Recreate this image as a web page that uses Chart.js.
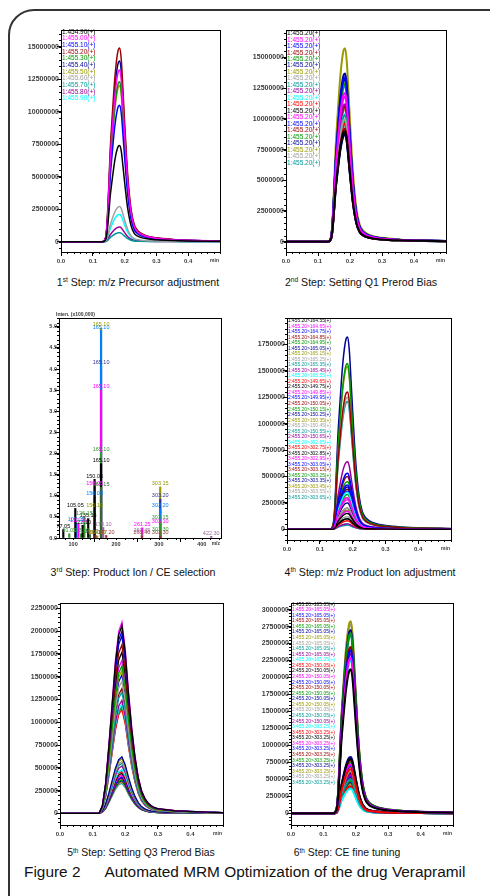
<!doctype html>
<html lang="en">
<head>
<meta charset="utf-8">
<title>Automated MRM Optimization of the drug Verapramil</title>
<style>
  * { margin: 0; padding: 0; }
  body {
    width: 490px; height: 896px; position: relative; overflow: hidden;
    background: #fff; font-family: "Liberation Sans", Arial, sans-serif; color: #111;
  }
  .frame {
    position: absolute; left: 8px; top: 9px; width: 520px; height: 930px;
    border: 2px solid #333; border-radius: 26px;
  }
  .box { position: absolute; }
  .cap {
    position: absolute; white-space: nowrap; line-height: 1;
    transform: translate(-50%, -50%); font-size: 10.6px;
  }
  .cap.small { font-size: 10.4px; }
  .cap sup { font-size: 0.62em; vertical-align: 0.5em; line-height: 0; }
  .fig { position: absolute; left: 24px; top: 864px; font-size: 15.4px; white-space: nowrap; line-height: 1; }
  .fig span { margin-left: 24px; }
</style>
</head>
<body>
<div class="frame"></div>

<div class="cap" style="left:138px; top:282px">1<sup>st</sup> Step: m/z Precursor adjustment</div>
<div class="cap" style="left:361px; top:282px">2<sup>nd</sup> Step: Setting Q1 Prerod Bias</div>
<div class="cap" style="left:133px; top:572px">3<sup>rd</sup> Step: Product Ion / CE selection</div>
<div class="cap" style="left:370px; top:572px">4<sup>th</sup> Step: m/z Product Ion adjustment</div>
<div class="cap small" style="left:141px; top:853px">5<sup>th</sup> Step: Setting Q3 Prerod Bias</div>
<div class="cap small" style="left:347px; top:853px">6<sup>th</sup> Step: CE fine tuning</div>
<div class="fig">Figure 2<span>Automated MRM Optimization of the drug Verapramil</span></div>

<script src="https://cdn.jsdelivr.net/npm/chart.js/dist/chart.umd.min.js"></script>
<script>
// ---- data ----
// retention time axis (min) and the peak profile (height = 1)
const times = [0, 0.13, 0.14, 0.145, 0.15, 0.155, 0.16, 0.17, 0.18, 0.185, 0.19, 0.195, 0.20, 0.205, 0.21, 0.22, 0.23, 0.24, 0.25, 0.27, 0.30, 0.35, 0.40, 0.50];
const profile = [0, 0, 0.02, 0.10, 0.28, 0.48, 0.62, 0.86, 0.99, 1.0, 0.93, 0.78, 0.62, 0.47, 0.34, 0.17, 0.09, 0.06, 0.045, 0.03, 0.02, 0.012, 0.008, 0.004];
// step 5 peaks are broader and drawn with straight segments
const times5 = [0, 0.12, 0.13, 0.14, 0.15, 0.16, 0.17, 0.18, 0.19, 0.20, 0.21, 0.22, 0.23, 0.24, 0.25, 0.26, 0.27, 0.28, 0.29, 0.30, 0.35, 0.40, 0.45, 0.50];
const profile5 = [0, 0, 0.04, 0.16, 0.36, 0.58, 0.80, 0.95, 1.0, 0.86, 0.64, 0.45, 0.30, 0.19, 0.12, 0.08, 0.055, 0.04, 0.03, 0.025, 0.015, 0.01, 0.006, 0.004];

const palette = ['#000000', '#ff00ff', '#0000ff', '#990000', '#009900', '#000099', '#999900', '#a0a0a0', '#009999', '#990099', '#00ffff', '#ff0000'];

// 1st step
const p1Labels = ['1:454.90(+)', '1:455.00(+)', '1:455.10(+)', '1:455.20(+)', '1:455.30(+)', '1:455.40(+)', '1:455.50(+)', '1:455.60(+)', '1:455.70(+)', '1:455.80(+)', '1:455.90(+)'];
const p1Peaks = [7400000, 13200000, 10500000, 14900000, 12300000, 13900000, 12000000, 2700000, 690000, 1130000, 2100000];
const p1YTicks = [0, 2500000, 5000000, 7500000, 10000000, 12500000, 15000000];

// 2nd step
const p2Labels = Array(21).fill('1:455.20(+)');
const p2Peaks = [9000000, 12100000, 13400000, 9200000, 12900000, 13700000, 15750000, 10000000, 10300000, 11200000, 10400000,
                 9600000, 8800000, 11800000, 8700000, 11000000, 9800000, 13200000, 10800000, 9400000, 12700000];

// 3rd step: product ion spectra, [m/z, intensity x100,000] per CE
const ceBlack   = [[77.05, 0.20], [105.05, 0.70], [122.10, 0.30], [135.15, 0.46], [150.05, 1.39], [165.10, 1.76]];
const ceGreen   = [[91.05, 0.10], [118.10, 0.10], [126.15, 0.50], [165.10, 2.03], [303.15, 0.40], [303.30, 0.12]];
const ceMagenta = [[112.10, 0.34], [150.05, 1.22], [165.10, 3.50], [261.25, 0.24], [303.10, 0.32]];
const ceAzure   = [[107.05, 0.36], [150.00, 0.97], [165.10, 4.92], [303.20, 0.70]];
const ceNavy    = [[165.10, 4.07], [303.20, 0.92]];
const ceOlive   = [[150.10, 0.70], [156.10, 0.05], [165.10, 4.97], [303.15, 1.21]];
const ceDkGreen = [[139.10, 0.08], [165.15, 1.20]];
const cePurple  = [[170.10, 0.25], [260.45, 0.10], [422.30, 0.04]];
const ceDkRed   = [[152.10, 0.06], [177.20, 0.06], [260.40, 0.05], [303.30, 0.05]];
const p3YTicks = [0, 0.5, 1.0, 1.5, 2.0, 2.5, 3.0, 3.5, 4.0, 4.5, 5.0];
const p3XTicks = [100, 200, 300, 400];

// 4th step
const p4Labels = [
  '1:455.20>164.55(+)', '1:455.20>164.65(+)', '1:455.20>164.75(+)', '1:455.20>164.85(+)', '1:455.20>164.95(+)', '1:455.20>165.05(+)',
  '1:455.20>165.15(+)', '1:455.20>165.25(+)', '1:455.20>165.35(+)', '1:455.20>165.45(+)', '1:455.20>165.55(+)',
  '2:455.20>149.65(+)', '2:455.20>149.75(+)', '2:455.20>149.85(+)', '2:455.20>149.95(+)', '2:455.20>150.05(+)', '2:455.20>150.15(+)',
  '2:455.20>150.25(+)', '2:455.20>150.35(+)', '2:455.20>150.45(+)', '2:455.20>150.55(+)', '2:455.20>150.65(+)',
  '3:455.20>302.65(+)', '3:455.20>302.75(+)', '3:455.20>302.85(+)', '3:455.20>302.95(+)', '3:455.20>303.05(+)', '3:455.20>303.15(+)',
  '3:455.20>303.25(+)', '3:455.20>303.35(+)', '3:455.20>303.45(+)', '3:455.20>303.55(+)', '3:455.20>303.65(+)'];
const p4Peaks = [100000, 300000, 530000, 1300000, 1570000, 1820000, 1540000, 1250000, 1210000, 640000, 350000,
                 80000, 150000, 170000, 420000, 500000, 450000, 400000, 300000, 200000, 100000, 50000,
                 50000, 100000, 200000, 280000, 360000, 380000, 330000, 250000, 180000, 120000, 40000];
const p4YTicks = [0, 250000, 500000, 750000, 1000000, 1250000, 1500000, 1750000];

// 5th step
const p5Peaks = [2060000, 2100000, 2000000, 1850000, 1620000, 1950000, 1570000, 1450000, 1330000, 1240000, 1200000,
                 1140000, 1770000, 1680000, 1520000, 1370000, 1170000, 620000, 600000, 570000, 550000, 520000,
                 480000, 460000, 440000, 420000, 400000, 390000, 370000, 360000, 350000, 340000, 330000];
const p5YTicks = [0, 250000, 500000, 750000, 1000000, 1250000, 1500000, 1750000, 2000000, 2250000];

// 6th step
const p6Labels = [
  ...Array(11).fill('1:455.20>165.05(+)'),
  ...Array(11).fill('2:455.20>150.05(+)'),
  ...Array(11).fill('3:455.20>303.25(+)')];
const p6Peaks = [2120000, 2290000, 2400000, 2450000, 2650000, 2700000, 2830000, 2780000, 2620000, 2350000, 2250000,
                 650000, 800000, 720000, 700000, 780000, 750000, 830000, 680000, 620000, 500000, 560000,
                 360000, 400000, 600000, 580000, 540000, 520000, 480000, 460000, 440000, 420000, 380000];
const p6YTicks = [0, 250000, 500000, 750000, 1000000, 1250000, 1500000, 1750000, 2000000, 2250000, 2500000, 2750000, 3000000];

const timeTicks = [0, 0.1, 0.2, 0.3, 0.4];

// ---- drawing ----
const FONT = '"Liberation Sans", Arial, sans-serif';
const AXIS_W = 46, PAD_R = 12, PAD_T = 6, AXIS_H = 16;

function place(rect) {
  const div = document.createElement('div');
  div.className = 'box';
  div.style.left = (rect.l - AXIS_W) + 'px';
  div.style.top = (rect.t - PAD_T) + 'px';
  const c = document.createElement('canvas');
  c.width = rect.r - rect.l + AXIS_W + PAD_R;
  c.height = rect.b - rect.t + PAD_T + AXIS_H;
  c.style.width = c.width + 'px';
  c.style.height = c.height + 'px';
  div.appendChild(c);
  document.body.appendChild(div);
  return c;
}

function axis(o) {
  return {
    type: 'linear', min: o.min, max: o.max, offset: false,
    afterFit: s => { if (s.isHorizontal()) s.height = AXIS_H; else s.width = AXIS_W; },
    afterBuildTicks: s => { s.ticks = o.major.map(v => ({ value: v })); },
    ticks: {
      autoSkip: false, maxRotation: 0, padding: o.pad, color: '#3a3a3a',
      font: { family: FONT, size: o.size, weight: 'bold' },
      callback: o.fmt
    },
    grid: { drawOnChartArea: false, tickLength: 4, color: '#000' },
    border: { color: '#000' }
  };
}

// box around the plot, minor ticks, units and the in-plot trace list
const decor = {
  id: 'decor',
  afterDraw(chart, args, o) {
    const { ctx, chartArea: a, scales } = chart;
    ctx.save();
    ctx.strokeStyle = '#000';
    ctx.lineWidth = 1;
    ctx.strokeRect(Math.round(a.left) + 0.5, Math.round(a.top) + 0.5, Math.round(a.right - a.left), Math.round(a.bottom - a.top));
    ctx.beginPath();
    const xs = scales.x, ys = scales.y;
    const x0 = Math.ceil(xs.min / o.xMinor - 1e-6);
    for (let k = x0; k * o.xMinor <= xs.max + 1e-9; k++) {
      const px = Math.round(xs.getPixelForValue(k * o.xMinor)) + 0.5;
      ctx.moveTo(px, a.bottom); ctx.lineTo(px, a.bottom + 2);
    }
    const y0 = Math.ceil(ys.min / o.yMinor - 1e-6);
    for (let k = y0; k * o.yMinor <= ys.max + 1e-9; k++) {
      const py = Math.round(ys.getPixelForValue(k * o.yMinor)) + 0.5;
      ctx.moveTo(a.left - 2, py); ctx.lineTo(a.left, py);
    }
    ctx.stroke();

    ctx.fillStyle = '#3a3a3a';
    ctx.font = 'bold 5px ' + FONT;
    ctx.textAlign = 'right';
    ctx.textBaseline = 'middle';
    ctx.fillText(o.unit, a.right - 1, a.bottom + o.unitDy);
    if (o.title) {
      ctx.textAlign = 'left';
      ctx.textBaseline = 'bottom';
      ctx.fillText(o.title, a.left - 3, a.top - 1);
    }

    if (o.list) {
      ctx.font = o.list.size + 'px ' + FONT;
      ctx.textAlign = 'left';
      ctx.textBaseline = 'middle';
      chart.data.datasets.forEach((d, i) => {
        ctx.fillStyle = d.borderColor;
        ctx.fillText(d.label, a.left + 1, a.top + o.list.y0 + i * o.list.step);
      });
    }
    ctx.restore();
  }
};

// m/z value written above each stick of the spectrum
const stickLabels = {
  id: 'stickLabels',
  afterDatasetsDraw(chart) {
    const ctx = chart.ctx;
    ctx.save();
    ctx.font = '5.5px ' + FONT;
    ctx.textAlign = 'center';
    ctx.textBaseline = 'bottom';
    chart.data.datasets.forEach((d, i) => {
      chart.getDatasetMeta(i).data.forEach((el, k) => {
        ctx.fillStyle = d.backgroundColor;
        ctx.fillText(d.data[k].x.toFixed(2), el.x, el.y - 0.5);
      });
    });
    ctx.restore();
  }
};

function chromatogram(rect, o) {
  const canvas = place(rect);
  const datasets = o.peaks.map((h, i) => ({
    label: o.labels ? o.labels[i] : '',
    data: o.times.map((t, k) => ({ x: t, y: o.shape[k] * h })),
    borderColor: palette[i % palette.length],
    borderWidth: o.lw,
    pointRadius: 0,
    tension: 0,
    cubicInterpolationMode: o.smooth ? 'monotone' : 'default',
    fill: false
  }));
  return new Chart(canvas, {
    type: 'line',
    data: { datasets },
    options: {
      responsive: false, animation: false, events: [],
      layout: { padding: { top: PAD_T, right: PAD_R, left: 0, bottom: 0 } },
      plugins: {
        legend: { display: false }, tooltip: { enabled: false },
        decor: { xMinor: 0.02, yMinor: o.yMinor, unit: 'min', unitDy: 9, list: o.list }
      },
      scales: {
        x: axis({ min: 0, max: 0.5, major: timeTicks, pad: 1.5, size: 6, fmt: v => v.toFixed(1) }),
        y: axis({ min: o.ymin, max: o.ymax, major: o.yTicks, pad: -2, size: 7, fmt: v => String(v) })
      }
    },
    plugins: [decor]
  });
}

chromatogram({ l: 61, t: 30, r: 220, b: 252 }, {
  times, shape: profile, smooth: true, lw: 1.5, peaks: p1Peaks, labels: p1Labels,
  ymin: -792000, ymax: 16280000, yTicks: p1YTicks, yMinor: 500000,
  list: { size: 6.5, y0: 2, step: 6.67 }
});

chromatogram({ l: 286, t: 30, r: 446, b: 252 }, {
  times, shape: profile, smooth: true, lw: 2, peaks: p2Peaks, labels: p2Labels,
  ymin: -839000, ymax: 17240000, yTicks: p1YTicks, yMinor: 500000,
  list: { size: 6.5, y0: 3.3, step: 6.48 }
});

chromatogram({ l: 287, t: 318, r: 451, b: 540 }, {
  times, shape: profile, smooth: true, lw: 1.5, peaks: p4Peaks, labels: p4Labels,
  ymin: -101000, ymax: 2000000, yTicks: p4YTicks, yMinor: 50000,
  list: { size: 4.9, y0: 2.7, step: 5.53 }
});

chromatogram({ l: 60, t: 603, r: 223, b: 825 }, {
  times: times5, shape: profile5, smooth: false, lw: 1.3, peaks: p5Peaks,
  ymin: -128000, ymax: 2309000, yTicks: p5YTicks, yMinor: 50000
});

chromatogram({ l: 291, t: 603, r: 453, b: 825 }, {
  times, shape: profile, smooth: true, lw: 2, peaks: p6Peaks, labels: p6Labels,
  ymin: -172000, ymax: 3097000, yTicks: p6YTicks, yMinor: 50000,
  list: { size: 4.9, y0: 1.3, step: 5.57 }
});

// 3rd step spectrum (first dataset is drawn on top)
const spectra = [
  [ceDkRed, '#993333'], [cePurple, '#996699'], [ceDkGreen, '#336633'], [ceBlack, '#000000'], [ceGreen, '#339933'],
  [ceMagenta, '#ff00ff'], [ceAzure, '#0080ff'], [ceNavy, '#333399'], [ceOlive, '#999900']
];
new Chart(place({ l: 59, t: 318, r: 221, b: 538 }), {
  type: 'bar',
  data: {
    datasets: spectra.map(([pts, color]) => ({
      data: pts.map(p => ({ x: p[0], y: p[1] })),
      backgroundColor: color,
      barThickness: 1.5,
      grouped: false
    }))
  },
  options: {
    responsive: false, animation: false, events: [],
    layout: { padding: { top: PAD_T, right: PAD_R, left: 0, bottom: 0 } },
    plugins: {
      legend: { display: false }, tooltip: { enabled: false },
      decor: { xMinor: 20, yMinor: 0.1, unit: 'm/z', unitDy: 5.5, title: 'Inten. (x100,000)' }
    },
    scales: {
      x: axis({ min: 67, max: 445, major: p3XTicks, pad: -1, size: 5.5, fmt: v => String(v) }),
      y: axis({ min: 0, max: 5.21, major: p3YTicks, pad: -2, size: 5.5, fmt: v => v.toFixed(1) })
    }
  },
  plugins: [decor, stickLabels]
});
</script>
</body>
</html>
